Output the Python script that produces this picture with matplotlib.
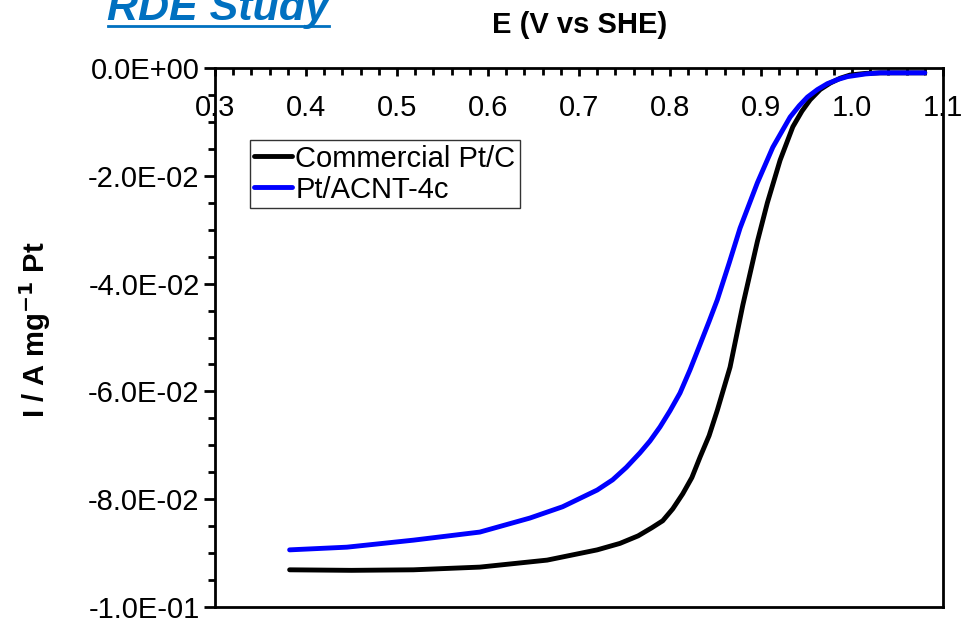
import numpy as np
import matplotlib
matplotlib.use("Agg")
import matplotlib.pyplot as plt
from matplotlib.lines import Line2D
from matplotlib.ticker import MultipleLocator, FormatStrFormatter, FuncFormatter

plt.rcParams['font.family'] = ['Liberation Sans', 'DejaVu Sans']

# potential (V vs SHE) and mass activity current (A/mg Pt)
e_commercial = [0.382, 0.450, 0.518, 0.591, 0.665, 0.720, 0.745, 0.765, 0.780,
                0.792, 0.803, 0.814, 0.824, 0.833, 0.843, 0.852, 0.866, 0.880,
                0.896, 0.907, 0.921, 0.935, 0.945, 0.954, 0.965, 0.976, 0.987,
                0.998, 1.015, 1.031, 1.080]
i_commercial = [-0.0931, -0.0932, -0.0931, -0.0926, -0.0913, -0.0894, -0.0882,
                -0.0868, -0.0853, -0.0840, -0.0818, -0.0790, -0.0760, -0.0722,
                -0.0682, -0.0635, -0.0555, -0.0440, -0.0322, -0.0250, -0.0171,
                -0.0109, -0.0080, -0.0059, -0.0040, -0.0028, -0.0019, -0.0013,
                -0.0010, -0.0009, -0.0009]

e_acnt = [0.382, 0.445, 0.518, 0.591, 0.646, 0.682, 0.720, 0.737, 0.752, 0.767,
          0.778, 0.789, 0.800, 0.811, 0.822, 0.833, 0.843, 0.852, 0.865, 0.877,
          0.896, 0.913, 0.932, 0.942, 0.951, 0.962, 0.973, 0.985, 0.995, 1.015,
          1.031, 1.080]
i_acnt = [-0.0894, -0.0889, -0.0876, -0.0861, -0.0835, -0.0814, -0.0783,
          -0.0764, -0.0741, -0.0714, -0.0692, -0.0666, -0.0636, -0.0603,
          -0.0560, -0.0513, -0.0470, -0.0430, -0.0362, -0.0297, -0.0213,
          -0.0147, -0.0091, -0.0070, -0.0054, -0.0040, -0.0029, -0.0021,
          -0.0016, -0.0011, -0.0009, -0.0009]

fig = plt.figure(figsize=(9.67, 6.18), dpi=100)
ax = fig.add_axes([215/967, 1-607/618, 728/967, 539/618])

ax.plot(e_commercial, i_commercial, color='black', lw=3.5, label='Commercial Pt/C',
        solid_capstyle='round', solid_joinstyle='round')
ax.plot(e_acnt, i_acnt, color='#0000ff', lw=3.5, label='Pt/ACNT-4c',
        solid_capstyle='round', solid_joinstyle='round')

ax.set_xlim(0.3, 1.1)
ax.set_ylim(-0.1, 0.0)

for s in ax.spines.values():
    s.set_linewidth(2)

# x axis sits on the top spine, labels drawn inside the plot
ax.xaxis.set_major_locator(MultipleLocator(0.1))
ax.xaxis.set_minor_locator(MultipleLocator(0.02))
ax.xaxis.set_major_formatter(FormatStrFormatter('%.1f'))
ax.tick_params(axis='x', which='both', bottom=False, labelbottom=False,
               top=True, labeltop=True, direction='in', width=2)
ax.tick_params(axis='x', which='major', length=6, pad=-39, labelsize=21)
ax.tick_params(axis='x', which='minor', length=5)

ax.yaxis.set_major_locator(MultipleLocator(0.02))
ax.yaxis.set_minor_locator(MultipleLocator(0.005))
ax.yaxis.set_major_formatter(FuncFormatter(
    lambda v, p: '0.0E+00' if abs(v) < 1e-9 else '%.1E' % v))
ax.tick_params(axis='y', which='both', right=False, direction='out', width=2)
ax.tick_params(axis='y', which='major', length=8, labelsize=21, pad=3)
ax.tick_params(axis='y', which='minor', length=5)

fig.text(580/967, 1-25/618, 'E (V vs SHE)', fontsize=21, fontweight='bold',
         ha='center', va='center')
fig.text(35/967, 1-330/618, r'I / A mg$^{\mathbf{-1}}$ Pt', fontsize=21,
         fontweight='bold', rotation=90, ha='center', va='center')

fig.text(218/967, 1-20/618, 'RDE Study', fontsize=31, fontweight='bold',
         fontstyle='italic', color='#0070c0', ha='center', va='baseline')
fig.add_artist(Line2D([108/967, 329/967], [1-26/618, 1-26/618],
                      color='#0070c0', lw=2))

leg = ax.legend(loc='upper left', bbox_to_anchor=(0.048, 0.866), fontsize=21,
                frameon=True, fancybox=False, handlelength=1.3,
                handletextpad=0.1, labelspacing=0.1, borderpad=0.15,
                borderaxespad=0)
leg.get_frame().set_edgecolor('black')
leg.get_frame().set_linewidth(1)

fig.savefig('out.png', dpi=100)
